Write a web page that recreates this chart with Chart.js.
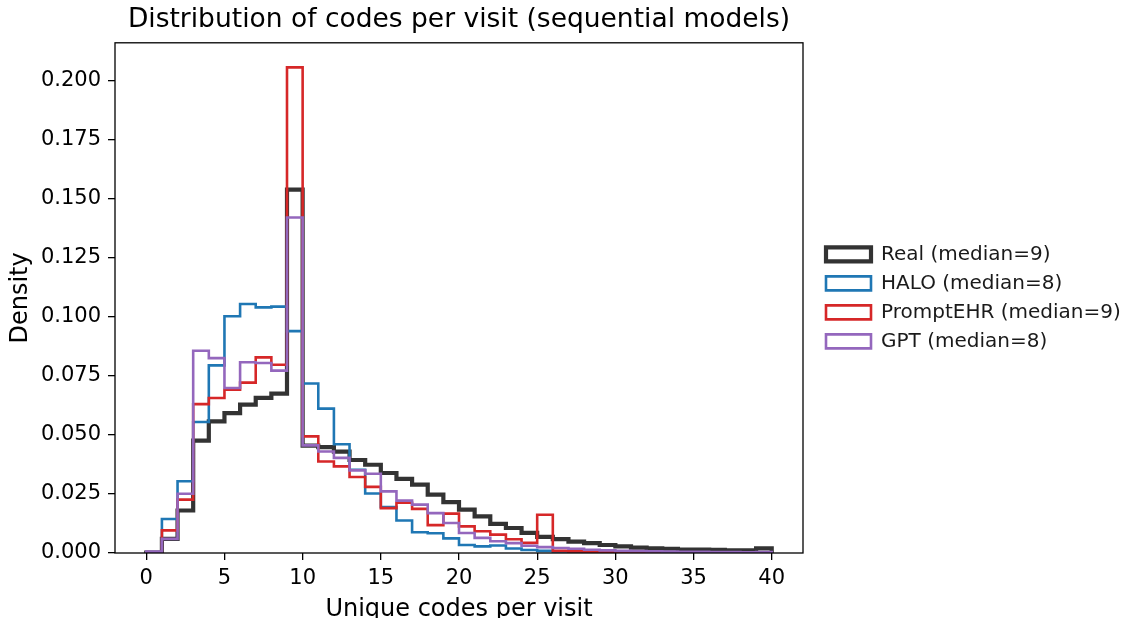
<!DOCTYPE html>
<html>
<head>
<meta charset="utf-8">
<script src="https://cdn.jsdelivr.net/npm/chart.js@4.4.1/dist/chart.umd.min.js"></script>
<style>
  html, body { margin: 0; padding: 0; background: #ffffff; }
  #wrap { width: 1123px; height: 618px; }
</style>
</head>
<body>
<div id="wrap"><canvas id="histchart" width="1123" height="618"></canvas></div>
<script>
// bin edges (unique codes per visit), 40 bins of width 1
const binEdges = [0, 1, 2, 3, 4, 5, 6, 7, 8, 9, 10, 11, 12, 13, 14, 15, 16, 17, 18, 19, 20,
  21, 22, 23, 24, 25, 26, 27, 28, 29, 30, 31, 32, 33, 34, 35, 36, 37, 38, 39, 40];

// density per bin
const realDensity = [0.0002, 0.006, 0.018, 0.0476, 0.0558, 0.0593, 0.0629, 0.0657, 0.0675, 0.154,
  0.0455, 0.0449, 0.043, 0.0394, 0.0374, 0.0339, 0.0314, 0.029, 0.0247, 0.0216,
  0.0184, 0.0155, 0.0123, 0.0106, 0.0085, 0.0068, 0.0059, 0.0048, 0.0042, 0.0034,
  0.0028, 0.0023, 0.002, 0.0018, 0.0014, 0.0014, 0.0013, 0.0011, 0.0011, 0.002];
const haloDensity = [0.0002, 0.0144, 0.0304, 0.0555, 0.0795, 0.1003, 0.1055, 0.1041, 0.1044, 0.094,
  0.0718, 0.0612, 0.0461, 0.0353, 0.0252, 0.0195, 0.0138, 0.0088, 0.0084, 0.0062,
  0.0034, 0.0028, 0.0032, 0.0019, 0.0013, 0.0009, 0.0007, 0.0005, 0.0004, 0.0003,
  0.0002, 0.0002, 0.0001, 0.0001, 0.0001, 0.0001, 0.0001, 0.0001, 0.0001, 0.0001];
const promptDensity = [0.0002, 0.0096, 0.0226, 0.0631, 0.0657, 0.0692, 0.0722, 0.0829, 0.0798, 0.2058,
  0.0494, 0.0388, 0.0367, 0.0322, 0.028, 0.019, 0.0213, 0.0187, 0.0118, 0.0167,
  0.0113, 0.0092, 0.0078, 0.0058, 0.0043, 0.0162, 0.0009, 0.0007, 0.0005, 0.0004,
  0.0003, 0.0002, 0.0002, 0.0002, 0.0001, 0.0001, 0.0001, 0.0001, 0.0001, 0.0001];
const gptDensity = [0.0006, 0.006, 0.0251, 0.0857, 0.0826, 0.0699, 0.0808, 0.0805, 0.0773, 0.1422,
  0.0456, 0.043, 0.0403, 0.035, 0.0336, 0.0261, 0.0222, 0.0205, 0.0169, 0.0127,
  0.0085, 0.0064, 0.005, 0.0042, 0.0031, 0.0025, 0.0021, 0.0018, 0.0014, 0.0011,
  0.0009, 0.0008, 0.0007, 0.0006, 0.0005, 0.0005, 0.0004, 0.0004, 0.0003, 0.0004];

const seriesLabels = ["Real (median=9)", "HALO (median=8)", "PromptEHR (median=9)", "GPT (median=8)"];
const xTicks = [0, 5, 10, 15, 20, 25, 30, 35, 40];
const yTicks = [0, 0.025, 0.05, 0.075, 0.1, 0.125, 0.15, 0.175, 0.2];

const FONT = "'DejaVu Sans', sans-serif";

// step outline like matplotlib histtype='step'
function stepPoints(vals) {
  const pts = [{x: binEdges[0], y: 0}];
  vals.forEach((v, i) => pts.push({x: binEdges[i], y: v}));
  pts.push({x: binEdges[binEdges.length - 1], y: 0});
  return pts;
}

function makeSet(label, vals, color, width, order) {
  return {
    label: label,
    data: stepPoints(vals),
    borderColor: color,
    backgroundColor: "#ffffff",
    borderWidth: width,
    stepped: "before",
    fill: false,
    pointRadius: 0,
    borderJoinStyle: "miter",
    order: order,
  };
}

const data = {
  datasets: [
    makeSet(seriesLabels[0], realDensity, "#333333", 4.2, 3),
    makeSet(seriesLabels[1], haloDensity, "#1f77b4", 2.6, 2),
    makeSet(seriesLabels[2], promptDensity, "#d62728", 2.6, 1),
    makeSet(seriesLabels[3], gptDensity, "#9467bd", 2.6, 0),
  ],
};

// box around the axes
const frame = {
  id: "frame",
  afterDatasetsDraw(chart) {
    const {ctx, chartArea: a} = chart;
    ctx.save();
    ctx.strokeStyle = "#000";
    ctx.lineWidth = 1.3;
    ctx.strokeRect(a.left, a.top, a.right - a.left, a.bottom - a.top);
    ctx.restore();
  },
};

// put the legend to the right of the axes
const legendPlace = {
  id: "legendPlace",
  afterLayout(chart) {
    const lg = chart.legend;
    const a = chart.chartArea;
    lg.left = a.right + 14;
    lg.right = chart.width;
    lg.top = a.top;
    lg.bottom = a.bottom;
    lg.width = lg.right - lg.left;
    lg.height = lg.bottom - lg.top;
  },
};

const tickFont = {family: FONT, size: 21};

const config = {
  type: "line",
  data,
  options: {
    responsive: false,
    animation: false,
    layout: { padding: {left: 0, top: 0, right: 320, bottom: 0} },
    scales: {
      x: {
        type: "linear",
        min: -2,
        max: 42,
        afterBuildTicks: (s) => { s.ticks = xTicks.map(v => ({value: v})); },
        afterFit: (s) => { s.height = 65; },
        grid: { display: true, drawOnChartArea: false, drawTicks: true, tickLength: 7, color: "#000", lineWidth: 1.3 },
        border: { display: false },
        ticks: { font: tickFont, color: "#000", padding: 6, maxRotation: 0 },
        title: { display: true, text: "Unique codes per visit", color: "#000",
          font: {family: FONT, size: 24, lineHeight: 1}, padding: {top: 0, bottom: -4} },
      },
      y: {
        min: 0,
        max: 0.2162,
        afterBuildTicks: (s) => { s.ticks = yTicks.map(v => ({value: v})); },
        afterFit: (s) => { s.width = 115; },
        grid: { display: true, drawOnChartArea: false, drawTicks: true, tickLength: 7, color: "#000", lineWidth: 1.3 },
        border: { display: false },
        ticks: { font: tickFont, color: "#000", padding: 7, callback: (v) => Number(v).toFixed(3) },
        title: { display: true, text: "Density", color: "#000",
          font: {family: FONT, size: 24, lineHeight: 1}, padding: {top: 9, bottom: 0} },
      },
    },
    plugins: {
      title: {
        display: true,
        text: "Distribution of codes per visit (sequential models)",
        color: "#000",
        fullSize: false,
        font: {family: FONT, size: 26.5, weight: "normal"},
        padding: {top: 4, bottom: 7},
      },
      legend: {
        position: "chartArea",
        align: "center",
        labels: {
          font: {family: FONT, size: 20},
          color: "#1a1a1a",
          boxWidth: 45,
          boxHeight: 14,
          padding: 9,
          sort: (a, b) => a.datasetIndex - b.datasetIndex,
        },
      },
      tooltip: { enabled: false },
    },
  },
  plugins: [frame, legendPlace],
};

const histchart = new Chart(document.getElementById("histchart"), config);
</script>
</body>
</html>
